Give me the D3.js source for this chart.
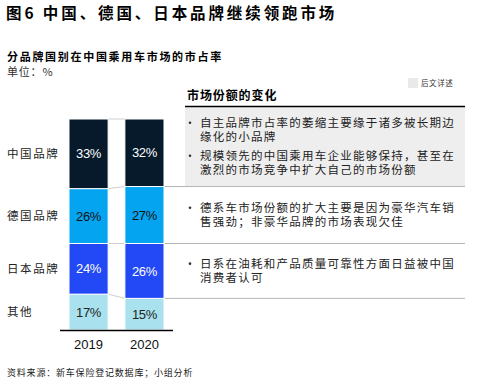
<!DOCTYPE html>
<html>
<head>
<meta charset="utf-8">
<script src="https://cdn.jsdelivr.net/npm/d3@7"></script>
<style>
  body { margin: 0; background: #fff; }
  svg { display: block; font-family: 'Noto Sans CJK SC', sans-serif; }
  .num { font-family: 'Liberation Sans', Arial, sans-serif; }
</style>
</head>
<body>
<div id="chart"></div>
<script>
const years = ['2019', '2020'];
const brands = ['其他', '日本品牌', '德国品牌', '中国品牌'];
const shares = {
  '2019': [17, 24, 26, 33],
  '2020': [15, 26, 27, 32]
};
const notes = [
  [['自主品牌市占率的萎缩主要缘于诸多被长期边', '缘化的小品牌'],
   ['规模领先的中国乘用车企业能够保持，甚至在', '激烈的市场竞争中扩大自己的市场份额']],
  [['德系车市场份额的扩大主要是因为豪华汽车销', '售强劲；非豪华品牌的市场表现欠佳']],
  [['日系在油耗和产品质量可靠性方面日益被中国', '消费者认可']]
];

const W = 484, H = 384;
const colour = d3.scaleOrdinal()
  .domain(brands)
  .range(['#a9e2ee', '#2249f5', '#05a4f0', '#061a2c']);
const labelColour = { '其他': '#222', '日本品牌': '#fff', '德国品牌': '#111', '中国品牌': '#fff' };

const $svg = d3.select('#chart').append('svg')
  .attr('width', W)
  .attr('height', H);

// title block
$svg.append('text')
  .attr('x', 6).attr('y', 19)
  .attr('font-size', 15.5).attr('font-weight', 700)
  .attr('letter-spacing', 2.9)
  .text('图6 中国、德国、日本品牌继续领跑市场');

$svg.append('text')
  .attr('x', 7).attr('y', 61)
  .attr('font-size', 11).attr('font-weight', 700)
  .attr('letter-spacing', 1.7)
  .text('分品牌国别在中国乘用车市场的市占率');

$svg.append('text')
  .attr('x', 7).attr('y', 76)
  .attr('font-size', 11).attr('fill', '#333')
  .attr('letter-spacing', 0.8)
  .text('单位：%');

// scales
const x = d3.scaleBand().domain(years).range([69, 164]).paddingInner(0.3);
const y = d3.scaleLinear().domain([0, 100]).range([330, 119]);

const rows = years.map(yr => {
  const r = { year: yr };
  brands.forEach((b, i) => r[b] = shares[yr][i]);
  return r;
});
const series = d3.stack().keys(brands)(rows);

// connectors between the two bars
const $conn = $svg.append('g');
series.forEach(s => {
  $conn.append('line')
    .attr('x1', x('2019') + x.bandwidth())
    .attr('x2', x('2020'))
    .attr('y1', y(s[0][1]))
    .attr('y2', y(s[1][1]))
    .attr('stroke', '#cfcfcf')
    .attr('stroke-width', 1);
});

// right panel
const panelL = 185, panelR = 465, headY = 106.5;
const divs2020 = series.slice(0, 3).map(s => y(s[1][1])).reverse(); // 中国/德国, 德国/日本, 日本/其他
const sections = [
  [headY, divs2020[0]],
  [divs2020[0], divs2020[1]],
  [divs2020[1], divs2020[2]]
];

$svg.append('rect')
  .attr('x', panelL).attr('y', headY)
  .attr('width', panelR - panelL)
  .attr('height', divs2020[0] - headY)
  .attr('fill', '#eeeeee');

divs2020.forEach(d => {
  $svg.append('line')
    .attr('x1', x('2020') + x.bandwidth()).attr('x2', panelR)
    .attr('y1', d).attr('y2', d)
    .attr('stroke', '#b5b5b5').attr('stroke-width', 1);
});

$svg.append('line')
  .attr('x1', panelL).attr('x2', panelR)
  .attr('y1', headY).attr('y2', headY)
  .attr('stroke', '#000').attr('stroke-width', 1.5);

$svg.append('text')
  .attr('x', 187).attr('y', 100)
  .attr('font-size', 12).attr('font-weight', 700)
  .attr('letter-spacing', 0.9)
  .text('市场份额的变化');

// legend
$svg.append('rect')
  .attr('x', 408).attr('y', 78).attr('width', 10).attr('height', 10)
  .attr('fill', '#e9e9e9');
$svg.append('text')
  .attr('x', 421).attr('y', 86)
  .attr('font-size', 7.5).attr('letter-spacing', 0.6).attr('fill', '#333')
  .text('后文详述');

// bullet notes
const lh = 14.5, gap = 4;
notes.forEach((bullets, si) => {
  const [top, bot] = sections[si];
  const nLines = d3.sum(bullets, b => b.length);
  const blockH = nLines * lh + (bullets.length - 1) * gap;
  let cy = (top + bot) / 2 - blockH / 2 + lh / 2;
  bullets.forEach(lines => {
    $svg.append('circle')
      .attr('cx', 190).attr('cy', cy)
      .attr('r', 1.3).attr('fill', '#333');
    lines.forEach(t => {
      $svg.append('text')
        .attr('x', 200).attr('y', cy)
        .attr('dy', '0.36em')
        .attr('font-size', 11.5).attr('letter-spacing', 1.25)
        .attr('fill', '#222')
        .text(t);
      cy += lh;
    });
    cy += gap;
  });
});

// bars
const $bars = $svg.append('g');
const $layer = $bars.selectAll('g')
  .data(series)
  .enter()
  .append('g')
  .attr('fill', d => colour(d.key));

$layer.selectAll('rect')
  .data(d => d)
  .enter()
  .append('rect')
  .attr('x', d => x(d.data.year))
  .attr('y', d => y(d[1]))
  .attr('width', x.bandwidth())
  .attr('height', d => y(d[0]) - y(d[1]))
  .attr('stroke', '#fff')
  .attr('stroke-width', 1);

$layer.selectAll('text')
  .data(d => d.map(v => Object.assign({ key: d.key }, v)))
  .enter()
  .append('text')
  .attr('class', 'num')
  .attr('x', d => x(d.data.year) + x.bandwidth() / 2)
  .attr('y', d => y((d[0] + d[1]) / 2))
  .attr('dy', '0.36em')
  .attr('text-anchor', 'middle')
  .attr('font-size', 13)
  .attr('letter-spacing', -0.3)
  .attr('fill', d => labelColour[d.key])
  .text(d => (d[1] - d[0]) + '%');

// category labels, centred on the 2019 segments
series.forEach(s => {
  $svg.append('text')
    .attr('x', 7)
    .attr('y', y((s[0][0] + s[0][1]) / 2))
    .attr('dy', '0.36em')
    .attr('font-size', 11.5).attr('letter-spacing', 1.6)
    .attr('fill', '#222')
    .text(s.key);
});

// x axis
const xAxis = d3.axisBottom(x).tickSize(0).tickPadding(10);
$svg.append('g')
  .attr('transform', `translate(0, ${y(0)})`)
  .call(xAxis)
  .call(g => g.select('.domain').remove())
  .selectAll('text')
  .attr('class', 'num')
  .attr('font-size', 13)
  .attr('fill', '#111');

$svg.append('line')
  .attr('x1', 60).attr('x2', 173)
  .attr('y1', y(0) + 0.5).attr('y2', y(0) + 0.5)
  .attr('stroke', '#000').attr('stroke-width', 1.5);

// source
$svg.append('text')
  .attr('x', 7).attr('y', 376)
  .attr('font-size', 9).attr('letter-spacing', 0.8)
  .attr('fill', '#222')
  .text('资料来源：新车保险登记数据库；小组分析');
</script>
</body>
</html>
